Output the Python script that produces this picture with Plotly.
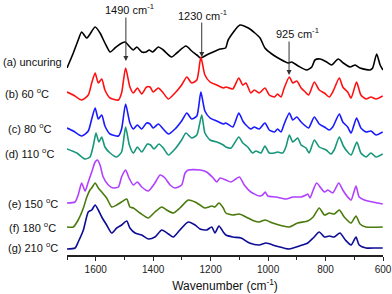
import plotly.graph_objects as go

# (a) uncuring
wn_a = [1700,1678,1661,1649,1631,1602,1585,1568,1550,1533,1515,1498,1481,1469,1457,1440,1425,1414,1402,1382,1365,1336,1318,1286,1266,1248,1235,1214,1191,1167,1148,1139,1098,1069,1046,1028,1011,987,959,930,918,895,866,848,837,819,796,779,756,738,715,697,680,645,636,622,610,600]
ab_a = [187,202,215,223,217,228,222,212,203,207,211,213,208,205,208,203,203,205,203,208,205,198,202,209,204,200,197,200,203,206,207,215,230,227,222,217,207,201,196,192,193,189,185,188,195,196,193,190,196,192,188,190,187,185,187,201,190,185]

# (b) 60 C
wn_b = [1700,1678,1649,1626,1614,1602,1591,1579,1568,1550,1521,1510,1496,1481,1469,1455,1440,1423,1411,1400,1382,1365,1347,1324,1301,1283,1266,1248,1234,1220,1202,1179,1156,1147,1123,1102,1088,1077,1060,1048,1031,1011,996,978,967,955,944,926,914,900,885,874,859,839,822,804,787,775,752,740,723,711,692,677,659,642,624,601]
ab_b = [163,160,155,160,172,182,172,176,165,157,155,162,187,168,162,167,161,168,168,163,167,162,156,162,170,178,172,175,198,180,173,170,167,168,166,177,170,172,162,165,162,167,160,158,161,158,167,178,172,174,167,164,160,173,165,162,158,163,177,168,163,157,173,160,156,158,156,159]

# (c) 80 C
wn_c = wn_b
ab_c = [127,124,119,124,136,147,136,140,129,121,119,126,151,132,126,130,126,132,131,127,131,126,121,126,134,142,136,139,163,144,137,134,131,132,128,142,134,130,126,128,126,132,125,123,126,123,131,142,135,138,133,130,127,138,131,128,125,128,141,133,128,122,137,127,123,124,120,123]

# (d) 110 C
wn_d = [1700,1666,1637,1620,1608,1599,1589,1579,1568,1550,1527,1510,1496,1483,1469,1455,1440,1420,1409,1397,1380,1365,1347,1324,1301,1286,1266,1248,1231,1220,1202,1179,1156,1147,1129,1102,1088,1071,1054,1042,1025,1011,996,978,967,949,938,926,914,897,885,868,857,839,822,798,781,770,752,738,723,711,691,677,659,642,624,601]
ab_d = [106,102,96,98,110,122,113,118,108,102,98,103,128,110,102,108,103,111,110,106,111,107,100,106,115,122,117,120,140,122,115,113,110,108,107,118,112,108,102,104,102,109,102,102,103,102,108,120,113,117,110,107,102,115,108,105,101,105,118,109,103,100,113,102,98,102,98,101]

# (e) 150 C
wn_e = [1700,1672,1661,1649,1637,1626,1614,1602,1594,1585,1574,1556,1539,1521,1510,1496,1484,1469,1455,1440,1417,1394,1376,1359,1341,1324,1301,1289,1278,1237,1214,1191,1179,1167,1147,1129,1100,1083,1060,1031,1019,1010,1001,972,938,914,885,868,862,854,843,831,816,804,792,775,754,740,723,711,694,683,665,636,601]
ab_e = [52,53,60,72,64,73,83,93,95,90,78,70,67,68,78,85,77,70,73,68,64,72,80,77,70,67,70,82,85,85,83,77,73,77,75,73,78,70,63,59,60,63,59,58,56,58,58,60,61,57,65,72,67,63,65,62,72,65,58,55,69,58,55,53,51]

# (f) 180 C
wn_f = [1700,1678,1661,1643,1631,1620,1614,1602,1591,1579,1562,1544,1527,1510,1492,1481,1469,1446,1417,1394,1370,1353,1330,1307,1278,1254,1237,1220,1196,1185,1171,1156,1147,1123,1100,1077,1048,1031,1010,984,949,926,897,862,843,822,804,787,770,752,735,711,694,680,659,601]
ab_f = [28,28,35,47,58,65,67,72,67,63,57,48,50,53,56,48,47,42,37,43,48,45,42,47,55,53,50,47,49,48,52,47,42,40,41,38,34,33,35,32,29,28,32,34,38,47,40,42,41,45,38,32,39,31,28,28]

# (g) 210 C
wn_g = [1700,1672,1661,1643,1626,1614,1602,1591,1579,1562,1544,1527,1510,1492,1481,1463,1440,1417,1394,1370,1347,1330,1307,1278,1254,1237,1214,1196,1185,1171,1156,1147,1123,1094,1065,1031,1007,972,926,891,862,843,822,804,787,770,750,731,711,694,683,659,624,601]
ab_g = [6,7,13,25,43,45,50,45,38,30,22,27,30,34,27,22,20,16,18,25,21,18,25,33,30,26,25,28,22,29,23,20,18,17,12,10,12,9,6,9,12,17,23,18,19,18,22,15,10,18,10,7,7,7]

series = [
    (wn_a, ab_a, "#000000", "(a) uncuring", 1),
    (wn_b, ab_b, "#ff1010", "(b) 60 <sup>o</sup>C", 3),
    (wn_c, ab_c, "#1a1aff", "(c) 80 <sup>o</sup>C", 6),
    (wn_d, ab_d, "#16967a", "(d) 110 <sup>o</sup>C", 3),
    (wn_e, ab_e, "#b040ff", "(e) 150 <sup>o</sup>C", 6),
    (wn_f, ab_f, "#4a7a0c", "(f) 180 <sup>o</sup>C", 7),
    (wn_g, ab_g, "#0c0c96", "(g) 210 <sup>o</sup>C", 6),
]
label_y = [193, 162, 127, 102, 52, 28, 8]

peak_wn = [1495, 1231, 927]
peak_tip = [194, 198, 180]
peak_len = [45, 36, 35]
peak_text = ["1490 cm<sup>-1</sup>", "1230 cm<sup>-1</sup>", "925 cm<sup>-1</sup>"]
peak_text_wn = [1484, 1227, 899]
peak_text_y = [246, 240, 222]

FONT = "Liberation Sans, Arial, sans-serif"
fig = go.Figure()
ann = []
for (wn, ab, col, lab, lx), ly in zip(series, label_y):
    fig.add_trace(go.Scatter(x=wn, y=ab, mode="lines",
                             line=dict(color=col, width=1.6, shape="spline", smoothing=0.6),
                             showlegend=False, hoverinfo="skip"))
    ann.append(dict(text=lab, xref="paper", x=(lx - 67) / 316, xanchor="left",
                    yref="y", y=ly, yanchor="middle", showarrow=False,
                    font=dict(size=11, color="#111", family=FONT)))

for w, t, L, txt, tw, ty in zip(peak_wn, peak_tip, peak_len, peak_text, peak_text_wn, peak_text_y):
    ann.append(dict(text="", x=w, y=t, xref="x", yref="y", showarrow=True,
                    ax=0, ay=-L, arrowhead=2, arrowsize=1, arrowwidth=1,
                    arrowcolor="#333", standoff=0))
    ann.append(dict(text=txt, x=tw, y=ty, xref="x", yref="y", showarrow=False,
                    xanchor="center", yanchor="middle",
                    font=dict(size=11, color="#111", family=FONT)))

fig.update_layout(
    width=392, height=294,
    margin=dict(l=67, r=9, t=0, b=39),
    paper_bgcolor="white", plot_bgcolor="white",
    annotations=ann,
    xaxis=dict(range=[1700, 600], tick0=600, dtick=200, ticks="outside", ticklen=4,
               tickwidth=1, tickcolor="#222", showline=True, linecolor="#222", linewidth=1.5,
               showgrid=False, zeroline=False,
               minor=dict(dtick=100, tick0=600, ticks="outside", ticklen=3, tickcolor="#222"),
               tickfont=dict(size=10, color="#222", family=FONT),
               title=dict(text="Wavenumber (cm<sup>-1</sup>)", standoff=8,
                          font=dict(size=12, color="#111", family=FONT))),
    yaxis=dict(range=[0, 255], visible=False),
)
fig.write_html("out.html", config={"displayModeBar": False},
               post_script="document.body.style.margin='0';")
